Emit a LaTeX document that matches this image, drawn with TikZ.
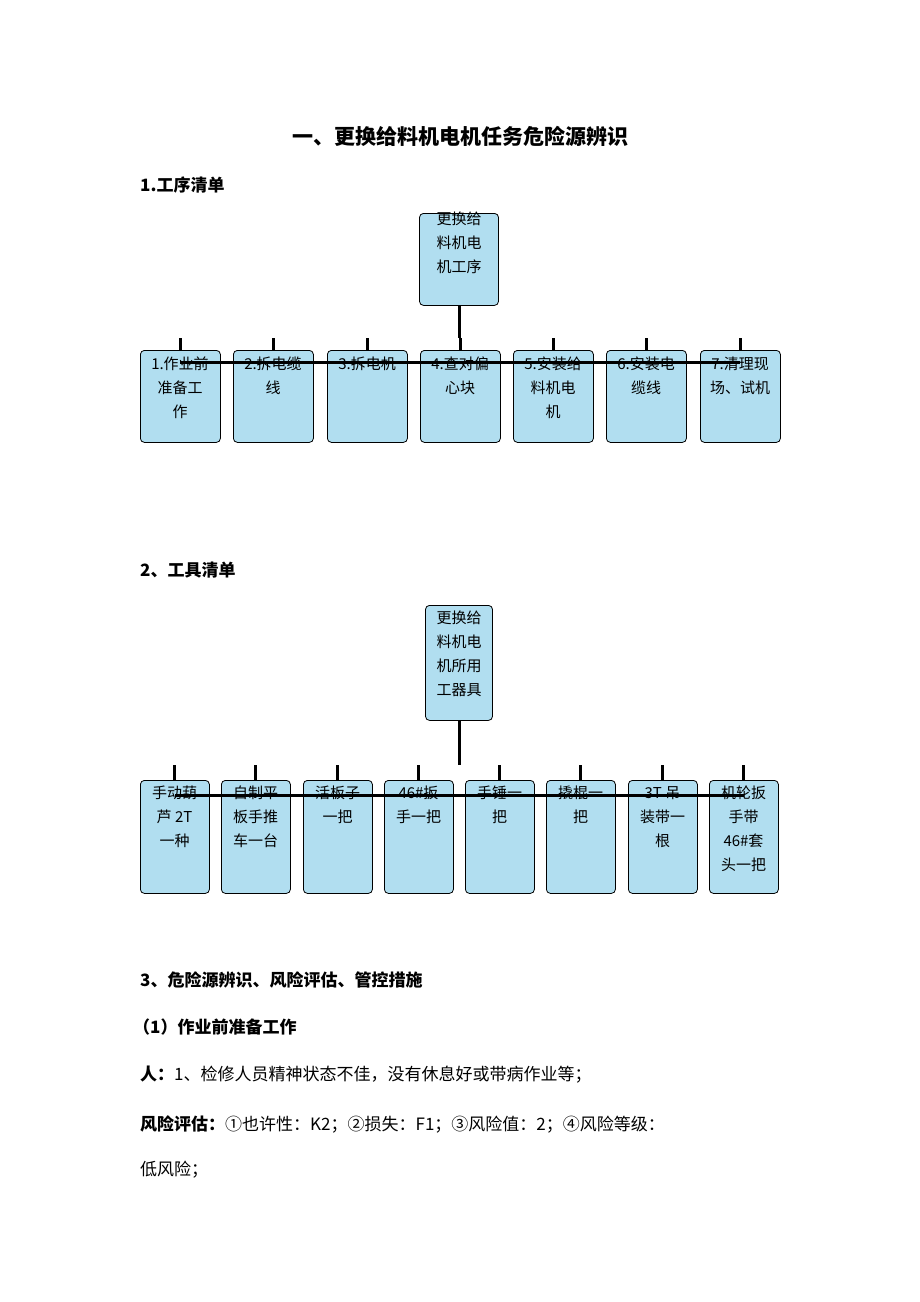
\documentclass[tikz,border=0pt]{standalone}
\usepackage{fontspec}
\setmainfont{Noto Sans CJK SC}
\newfontfamily\lat{Liberation Serif}
\begin{document}
\begin{tikzpicture}[x=1pt,y=-1pt,
 box/.style={draw,rounded corners=4pt,fill=cyan!25!white!90!teal,line width=0.8pt,align=center,anchor=north west,inner sep=0pt,font=\fontsize{15}{24}\selectfont},
 conn/.style={line width=3pt},
 txt/.style={anchor=west,inner sep=0pt,font=\fontsize{17}{20}\selectfont}]
\useasboundingbox (0,0) rectangle (920,1302);
\node[font=\bfseries\fontsize{21}{24}\selectfont] (title) at (460,136) {一、更换给料机电机任务危险源辨识};
\node[txt,font=\bfseries\fontsize{17}{20}\selectfont] (h1) at (140,185) {1.工序清单};
% tree 1
\node[box,minimum width=79pt,minimum height=92pt,anchor=north] (r1) at (459,213) {\raisebox{0pt}{}\\[-14pt]更换给\\料机电\\机工序\\[8pt]};
\coordinate (j1) at (459,338);
\foreach \x/\t [count=\i] in {140/{1.作业前\\准备工\\作},233/{2.拆电缆\\线},327/{3.拆电机},420/{4.查对偏\\心块},513/{5.安装给\\料机电\\机},606/{6.安装电\\缆线},700/{7.清理现\\场、试机}}{
 \node[box,minimum width=80pt,minimum height=92pt] (a\i) at (\x,350) {};
 \node[anchor=north,align=center,font=\fontsize{15}{24}\selectfont,inner sep=0pt] (at\i) at (\x+40,357) {\t};
 \draw[conn] (a\i.north) -- ++(0,-12);
}
\draw[conn] (r1.south) -- (j1);
\draw[conn] ([yshift=-12pt]a1.north) -- ([yshift=-12pt]a7.north);
\node[txt,font=\bfseries\fontsize{17}{20}\selectfont] (h2) at (140,570) {2、工具清单};
% tree 2
\node[box,minimum width=67pt,minimum height=115pt,anchor=north] (r2) at (459,605) {};
\node[anchor=north,align=center,font=\fontsize{15}{24}\selectfont,inner sep=0pt] (r2t) at (459,611) {更换给\\料机电\\机所用\\工器具};
\coordinate (j2) at (459,765);
\foreach \x/\t [count=\i] in {140/{手动葫\\芦 2T\\一种},221/{自制平\\板手推\\车一台},303/{活板子\\一把},384/{46\#扳\\手一把},465/{手锤一\\把},546/{撬棍一\\把},628/{3T 吊\\装带一\\根},709/{机轮扳\\手带\\46\#套\\头一把}}{
 \node[box,minimum width=69pt,minimum height=113pt] (b\i) at (\x,780) {};
 \node[anchor=north,align=center,font=\fontsize{15}{24}\selectfont,inner sep=0pt] (bt\i) at (\x+34.5,786) {\t};
 \draw[conn] (b\i.north) -- ++(0,-15);
}
\draw[conn] (r2.south) -- (j2);
\draw[conn] ([yshift=-15pt]b1.north) -- ([yshift=-15pt]b8.north);
\node[txt,font=\bfseries\fontsize{17}{20}\selectfont] (h3) at (140,980) {3、危险源辨识、风险评估、管控措施};
\node[txt,font=\bfseries\fontsize{17}{20}\selectfont] (h4) at (133,1027) {（1）作业前准备工作};
\node[txt] (p1) at (140,1075) {\textbf{人：}1、检修人员精神状态不佳，没有休息好或带病作业等；};
\node[txt,text width=640pt,align=justify] (p2) at (140,1124) {\textbf{风险评估：}①也许性：K2；②损失：F1；③风险值：2；④风险等级：};
\node[txt] (p3) at (140,1170) {低风险；};
\end{tikzpicture}
\end{document}
